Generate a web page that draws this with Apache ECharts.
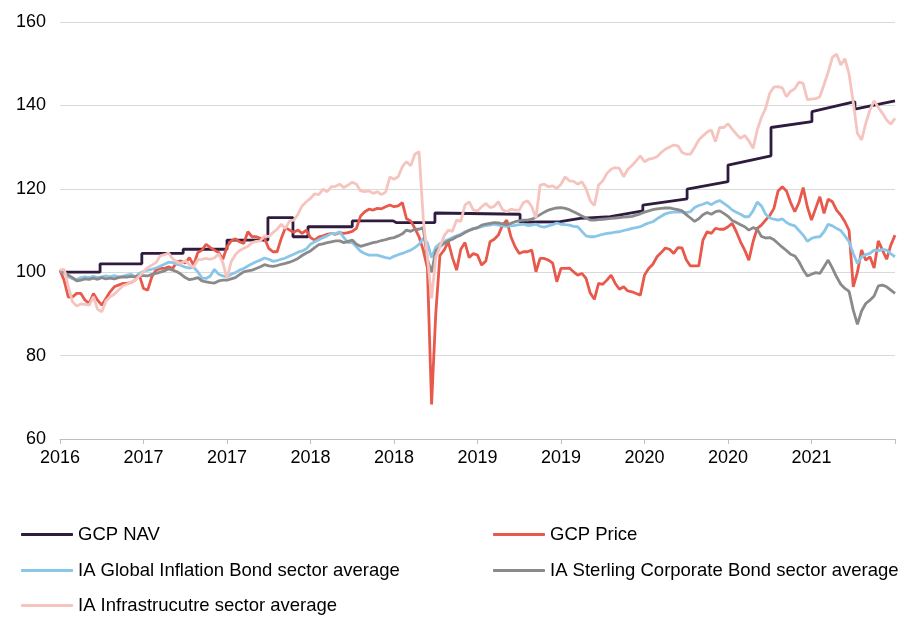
<!DOCTYPE html>
<html>
<head>
<meta charset="utf-8">
<script src="https://cdn.jsdelivr.net/npm/echarts@6/dist/echarts.min.js"></script>
<style>
html,body{margin:0;padding:0;background:#fff;}
#chart{width:917px;height:617px;}
</style>
</head>
<body>
<div id="chart"></div>
<script>
// X positions are sample indices 0..200 (ticks every 20 samples)
const tickLabels = ['2016','2017','2017','2018','2018','2019','2019','2020','2020','2021',''];

const seriesNames = ['GCP NAV','GCP Price','IA Global Inflation Bond sector average','IA Sterling Corporate Bond sector average','IA Infrastrucutre sector average'];

// GCP NAV: [sample index, value] pairs (step-like series)
const navPoints = [
  [0,100],[9.6,100],[9.6,102],[19.6,102],[19.6,104.5],[29.5,104.5],[29.5,105.5],[40,105.5],
  [40,107.7],[49.8,107.7],[49.8,113.1],[55.8,113.1],[55.8,108.5],[59.4,108.5],[59.4,110.9],
  [70,110.9],[70,112.3],[79.8,112.3],[80.5,111.9],[89.8,111.9],[89.8,114.2],[110.2,113.9],
  [110.2,112.0],[119.8,112.1],[124.6,112.9],[131.8,113.3],[139.6,114.7],[139.6,116.1],
  [150.2,117.6],[150.2,119.9],[160,121.7],
  [160,125.7],[170.3,127.9],[170.3,134.7],[180.1,136.1],[180.1,138.5],[190.4,140.9],[190.4,139.1],
  [200,141.1]
];

const gcpPrice = [
100.5,98,94,94.1,94.9,94.9,93.3,92.5,94.9,93.3,
92.1,93.7,95.3,96.5,96.9,97.3,97.3,97.5,98.1,99.3,
96.1,95.7,98.9,100.5,100.9,100.9,101.3,100.9,102.5,102.7,
102.2,103.5,101.7,104.7,105.3,106.7,105.9,105.3,104.7,103.1,
106.1,107.5,108,107.3,106.9,109.7,108.5,108.5,108.1,108.1,
105.7,104.9,104.9,108.1,110.7,110.1,109.6,110.1,109.3,110.1,
108.3,107.7,108.5,108.7,109.1,109.3,109.1,109.5,109.3,109.5,
109.8,110.5,113.5,114.5,115.1,114.9,115.3,115.2,115.7,116.1,
115.7,115.9,116.7,112.8,112.3,110.5,108.5,105.3,101,68.3,
90,104,105.3,107.3,103.5,100.5,105.5,107.1,103.5,104.5,
104.1,101.7,102.7,107.3,107.9,108.9,111.3,112.5,108.5,106.1,
104.5,104.9,104.9,105.3,100.1,103.3,103.3,102.9,102.2,97.7,
100.9,100.9,101,100.1,99.3,99.7,98.5,95,93.5,97.3,
97.1,98.1,99.3,97.3,95.9,96.5,95.5,95.3,94.9,94.5,
99.3,100.9,101.9,103.7,104.7,105.8,105.5,104.5,105.9,105.8,
103,101.5,101.5,101.5,107.7,109.7,109.3,110.5,110.3,110.3,
110.9,111.7,109.7,107.3,105.3,102.9,107.3,110.5,111.3,112.5,
113.6,115.3,119.5,120.5,119.5,116.7,114.5,116.7,120.3,115.7,
112.5,115.3,118.1,114.1,117.5,116.9,114.9,113.7,112.1,110,
96.5,100,105.3,102.9,103.7,101,107.5,105.3,103.1,106.5,
108.9
];

const inflationBond = [
100.5,99.7,98.9,98.4,98.3,98.7,98.9,98.7,99,98.7,
98.9,99.1,98.9,99.2,98.9,99,99.3,99.5,98.9,99.7,
100.2,100.5,100.7,101,101.4,101.9,102.4,102.3,101.9,101.6,
101.2,101,101.2,100.1,98.6,98.5,99.1,100.7,99.5,99.1,
98.9,99.5,99.9,100.5,100.9,101.5,102,102.5,102.9,103.4,
103.1,102.6,102.8,103.1,103.4,103.9,104.3,104.8,105.1,105.6,
106.7,107.3,107.8,108.3,108.7,109.3,109.2,109.7,108.3,107.1,
107.1,106.1,105,104.5,104.1,104.1,104.1,103.8,103.5,103.3,
103.8,104.2,104.5,104.9,105.3,105.9,106.7,108.1,107,103.5,
106,106.9,107.4,107.8,108.3,108.7,109.1,109.7,110.1,110.5,
110.6,110.9,111.2,111.3,111.5,111.3,111.1,111.0,111.1,111.2,
111.4,111.5,111.2,111.3,111.5,111.0,110.8,111.1,111.4,111.8,
111.5,111.4,111.3,111.0,110.9,109.8,108.7,108.5,108.5,108.8,
109.1,109.3,109.4,109.6,109.7,110,110.2,110.5,110.7,110.9,
111.4,111.8,112.1,112.8,113.4,114,114.3,114.4,114.5,114.4,
114.3,114.5,115.5,116,116.3,116.7,116.2,116.8,117.2,116.5,
115.8,114.9,114.4,113.9,113.3,113.3,114.7,116.8,115.9,113.9,
113,112.7,112.5,112.8,111.9,111.4,111.1,110,108.9,107.4,
108.1,108.4,108.5,109.7,111.5,111.1,110.5,110,108.7,107.3,
104.5,102.1,103.7,104.2,104.5,105.3,105.1,105.5,105.3,104.4,
103.7
];

const corporateBond = [
100.5,100,99.3,98.7,97.9,98.1,98.4,98.3,98.6,98.3,
98.7,98.4,98.6,98.4,98.7,98.9,98.8,99,98.9,99.2,
99.2,99.1,99.5,99.7,100,100.3,100.8,100.5,100.1,99.5,
98.7,98.2,98.4,98.7,97.9,97.7,97.5,97.4,97.9,98.1,
98.1,98.4,98.7,99.4,100.1,100.3,100.5,100.9,101.3,101.8,
101.5,101.4,101.6,101.9,102.1,102.4,102.8,103.3,104,104.6,
105.1,105.9,106.6,106.8,107.1,107.3,107.5,107.5,107.1,107.4,
107.7,106.7,106.2,106.5,106.8,107.1,107.3,107.6,107.8,108.1,
108.3,108.7,109.2,110.1,109.8,110.3,110.3,110.7,103,100,
105.1,106.1,106.9,107.5,107.9,108.5,108.9,109.5,110,110.4,
110.7,111.3,111.5,111.7,111.9,111.8,111.6,111.4,111.7,112.1,
112.3,112.5,112.5,112.7,113.2,113.8,114.4,114.9,115.2,115.4,
115.5,115.3,115,114.5,114,113.5,113,112.5,112.5,112.6,
112.7,112.8,112.9,113,113.1,113.2,113.3,113.4,113.7,114,
114.4,114.7,115,115.2,115.3,115.4,115.4,115.2,115,114.7,
113.8,113,112.2,112.8,113.8,114.3,113.9,114.5,114.7,114.1,
113.4,112.4,111.9,111.4,110.9,110.1,110.7,110.3,108.6,108.2,
108.3,107.8,106.9,106,105.2,104.3,103.9,102.5,100.6,99.1,
99.5,99.9,99.7,101.3,102.9,101,98.9,97.1,96.1,95.4,
90.9,87.5,90.7,92.5,93.3,94.3,96.7,96.9,96.5,95.7,
94.9
];

const infrastructure = [
100.5,100.7,96.5,92.9,91.9,92.4,92.3,92.1,94.1,91.1,
90.5,93.1,94.1,94.7,95.7,96.7,97.1,97.6,98.1,99.1,
100.1,101.1,101.7,102.3,103.9,104.2,104.6,103.2,102.4,102.1,
102.8,101.8,101.2,103,103.1,103.3,103.1,103.4,104.4,102.3,
98.5,102.5,104.2,105.2,105.7,106.2,107.1,107.4,107.5,108.8,
108.5,109.5,110.3,111.5,110.5,112.3,112.5,113.9,115.9,116.9,
117.7,118.8,118.6,119.9,119.3,120.5,120.6,121.1,120.3,120.9,
121.6,121.1,119.5,119.3,119.5,118.9,119.3,118.6,119.2,122.8,
122.3,122.9,125.3,126.5,125.5,128.3,128.9,112.9,103.7,93.7,
103.5,106.1,108.7,110.1,109.8,112.5,112.2,116.1,116.9,114.9,
114.7,115.7,116.5,115.5,115.8,116.9,115,114.5,115.1,114.9,
114.9,116.7,117.1,115.7,113,120.9,121.1,120.5,120.7,120.1,
121.1,122.9,121.9,121.8,121.1,121.7,120,117.1,116,120.9,
121.9,123.7,124.7,125.1,124.9,122.9,124.7,125.6,126.7,127.9,
126.5,127.1,127.3,127.7,128.7,129.5,130,130.5,130.3,128.7,
128.3,128.3,129.9,131.7,132.7,133.6,134.1,131.3,134.7,134.7,
135.6,134.3,133.1,132.1,132.8,131.5,129.7,134.1,137.1,139.3,
142.9,144.4,144.5,144.2,142.1,143.4,144,145.6,145.3,141.4,
141.5,141.6,142.1,145,148,151.5,152.3,149.7,151.2,147.5,
140.7,133.3,131.7,135.7,138.9,141.1,139.5,138.1,136.5,135.5,
136.9
];

const colors = ['#2e1b3e','#e8584b','#8ac6e8','#8a8a8a','#f6c4be'];
const FONT = 'Liberation Sans, Arial, sans-serif';

const indexed = arr => arr.map((v, i) => [i, v]);
const seriesData = [navPoints, indexed(gcpPrice), indexed(inflationBond), indexed(corporateBond), indexed(infrastructure)];

const legendPos = [
  {left: 21, top: 525},
  {left: 493, top: 525},
  {left: 21, top: 561},
  {left: 493, top: 561},
  {left: 21, top: 596}
];

const chart = echarts.init(document.getElementById('chart'), null, {renderer: 'canvas'});
chart.setOption({
  animation: false,
  backgroundColor: '#ffffff',
  grid: {left: 60, right: 22, top: 22, bottom: 178, containLabel: false},
  legend: seriesNames.map((n, k) => ({
    data: [n],
    left: legendPos[k].left,
    top: legendPos[k].top,
    padding: 0,
    icon: 'roundRect',
    itemWidth: 52,
    itemHeight: 3,
    selectedMode: false,
    textStyle: {fontSize: 18.5, color: '#000', fontFamily: FONT}
  })),
  xAxis: {
    type: 'value',
    min: 0,
    max: 200,
    interval: 20,
    axisLine: {show: true, lineStyle: {color: '#bfbfbf', width: 1}},
    axisTick: {show: true, length: 5, lineStyle: {color: '#bfbfbf'}},
    splitLine: {show: false},
    axisLabel: {
      fontSize: 18, color: '#000', fontFamily: FONT, margin: 10,
      formatter: v => tickLabels[Math.round(v / 20)] || ''
    }
  },
  yAxis: {
    type: 'value',
    min: 60,
    max: 160,
    interval: 20,
    axisLine: {show: false},
    axisTick: {show: false},
    splitLine: {show: true, lineStyle: {color: '#d9d9d9', width: 1}},
    axisLabel: {fontSize: 18, color: '#000', fontFamily: FONT, margin: 14}
  },
  series: seriesNames.map((n, k) => ({
    name: n,
    type: 'line',
    data: seriesData[k],
    symbol: 'none',
    smooth: false,
    color: colors[k],
    lineStyle: {color: colors[k], width: 2.8},
    itemStyle: {color: colors[k]},
    z: 2 + k
  }))
});
</script>
</body>
</html>
